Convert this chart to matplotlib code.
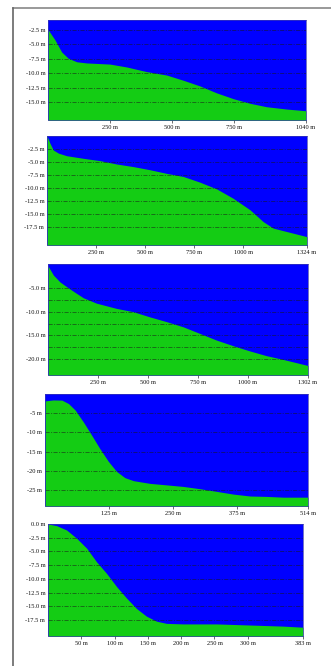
import matplotlib
matplotlib.use("Agg")
import matplotlib.pyplot as plt
from matplotlib.lines import Line2D

W, H = 331, 666

# ---- data (distance m, elevation m) ----
p1_x = [0, 28, 55, 82, 116, 156, 250, 317, 397, 478, 545, 613, 680, 747, 814, 881, 962, 1040]
p1_y = [-2.4, -4.2, -6.3, -7.4, -8.0, -8.2, -8.4, -8.9, -9.7, -10.3, -11.2, -12.2, -13.4, -14.4, -15.2, -15.8, -16.2, -16.5]

p2_x = [0, 15, 32, 58, 100, 185, 270, 355, 440, 524, 609, 694, 779, 864, 948, 1033, 1101, 1152, 1220, 1324]
p2_y = [0.0, -1.4, -2.7, -3.3, -3.8, -4.3, -4.75, -5.4, -5.9, -6.5, -7.2, -7.8, -8.9, -10.2, -12.0, -14.2, -16.5, -17.75, -18.4, -19.4]

p3_x = [0, 27, 60, 93, 135, 177, 243, 343, 427, 510, 593, 677, 760, 843, 927, 1010, 1093, 1177, 1293, 1302]
p3_y = [-0.3, -2.25, -3.7, -4.7, -5.9, -7.05, -8.2, -9.3, -10.0, -11.1, -12.1, -13.2, -14.6, -16.0, -17.2, -18.3, -19.3, -20.1, -21.3, -21.4]

p4_x = [0, 16, 33, 46, 59, 75, 91, 107, 124, 140, 156, 173, 205, 238, 270, 303, 336, 368, 401, 433, 466, 514]
p4_y = [-1.8, -1.55, -1.6, -2.5, -4.2, -7.3, -10.7, -14.2, -17.6, -20.2, -21.8, -22.6, -23.3, -23.7, -24.1, -24.7, -25.4, -26.1, -26.6, -26.7, -26.9, -26.9]

p5_x = [0, 13, 28, 43, 58, 73, 88, 103, 118, 133, 148, 163, 178, 203, 253, 303, 353, 383]
p5_y = [0.0, -0.3, -1.1, -2.6, -4.4, -6.9, -9.0, -11.4, -13.5, -15.4, -16.8, -17.7, -18.1, -18.2, -18.2, -18.4, -18.6, -18.8]

p1_xticks = [250, 500, 750, 1040]
p2_xticks = [250, 500, 750, 1000, 1324]
p3_xticks = [250, 500, 750, 1000, 1302]
p4_xticks = [125, 250, 375, 514]
p5_xticks = [50, 100, 150, 200, 250, 300, 383]

p1_yticks = [-2.5, -5.0, -7.5, -10.0, -12.5, -15.0]
p2_yticks = [-2.5, -5.0, -7.5, -10.0, -12.5, -15.0, -17.5]
p3_yticks = [-5.0, -10.0, -15.0, -20.0]
p4_yticks = [-5, -10, -15, -20, -25]
p5_yticks = [0.0, -2.5, -5.0, -7.5, -10.0, -12.5, -15.0, -17.5]

p1_grid = p1_yticks
p2_grid = p2_yticks
p3_grid = [-5.0, -7.5, -10.0, -12.5, -15.0, -17.5, -20.0]
p4_grid = p4_yticks
p5_grid = p5_yticks[1:]

panels = [
    # x, y, xticks, yticks, grid, ylim, fmt, box(l, r, top, bottom) in px
    (p1_x, p1_y, p1_xticks, p1_yticks, p1_grid, (-18.1, -0.75), "{:.1f} m", (48, 306, 20, 120)),
    (p2_x, p2_y, p2_xticks, p2_yticks, p2_grid, (-21.0, 0.0), "{:.1f} m", (47, 307, 136, 245)),
    (p3_x, p3_y, p3_xticks, p3_yticks, p3_grid, (-23.4, 0.1), "{:.1f} m", (48, 308, 264, 375)),
    (p4_x, p4_y, p4_xticks, p4_yticks, p4_grid, (-29.2, 0.0), "{:d} m", (45, 308, 394, 506)),
    (p5_x, p5_y, p5_xticks, p5_yticks, p5_grid, (-20.4, 0.0), "{:.1f} m", (48, 303, 524, 636)),
]

BLUE = "#0000ff"
GREEN = "#14cc14"

fig = plt.figure(figsize=(W / 100, H / 100), dpi=100)
fig.patch.set_facecolor("white")

font = dict(family="Liberation Serif", size=4.6, color="#111111")

for xs, ys, xt, yt, grid, ylim, fmt, (l, r, t, b) in panels:
    ax = fig.add_axes([l / W, 1 - b / H, (r - l) / W, (b - t) / H])
    ax.set_facecolor(BLUE)
    ax.fill_between(xs, ys, ylim[0] - 5, color=GREEN, linewidth=0, zorder=1)
    ax.set_xlim(xs[0], xs[-1])
    ax.set_ylim(*ylim)
    for g in grid:
        ax.axhline(g, color="#1a1a1a", lw=0.5, ls=(0, (6, 2, 1.5, 2)), alpha=0.75, zorder=2)
    ax.set_xticks(xt)
    ax.set_xticklabels([f"{v} m" for v in xt], fontdict=font)
    ax.set_yticks(yt)
    ax.set_yticklabels([fmt.format(v) for v in yt], fontdict=font)
    ax.tick_params(axis="x", length=2, width=0.5, pad=1.5, color="#333333")
    ax.tick_params(axis="y", length=0, pad=2)
    for s in ax.spines.values():
        s.set_color("#3a3ab0")
        s.set_linewidth(0.5)

# outer frame (top and left lines)
fig.add_artist(Line2D([13 / W, 1.0], [1 - 8 / H, 1 - 8 / H], transform=fig.transFigure,
                      color="#888888", lw=1.2))
fig.add_artist(Line2D([13 / W, 13 / W], [0.0, 1 - 8 / H], transform=fig.transFigure,
                      color="#666666", lw=1.2))

fig.savefig("out.png", dpi=100)
